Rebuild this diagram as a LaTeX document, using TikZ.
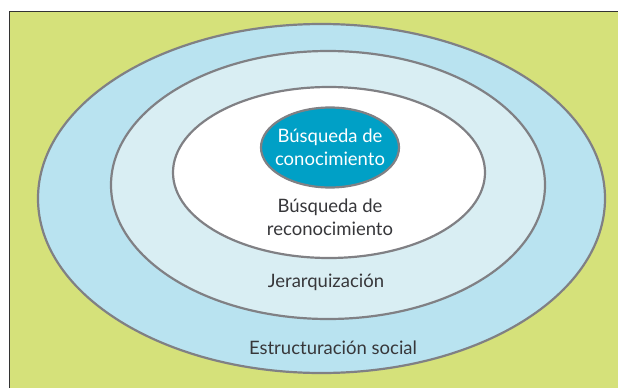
\documentclass[tikz,border=0pt]{standalone}
\usepackage{fontspec}
\setmainfont{Lato}
\usetikzlibrary{shapes.geometric}
\definecolor{bggreen}{RGB}{213,225,122}
\definecolor{ringblue}{RGB}{185,227,240}
\definecolor{ringpale}{RGB}{217,238,243}
\definecolor{coreblue}{RGB}{0,160,198}
\definecolor{rimgray}{RGB}{128,128,132}
\definecolor{txtgray}{RGB}{55,55,58}
\tikzstyle{ring} = [ellipse, inner sep=0pt, draw=rimgray, line width=2.2pt]
\tikzstyle{label} = [align=center, text=txtgray, font=\fontsize{18.5}{23}\selectfont, inner sep=0pt]
\begin{document}
\begin{tikzpicture}[x=1pt, y=-1pt]
\useasboundingbox (0,0) rectangle (618,388);
\fill[bggreen] (9,11) rectangle (618,388);
\draw[black!80, line width=1pt] (9,388) -- (9,11) -- (618,11);
\node (social) [ring, fill=ringblue, minimum width=567pt, minimum height=349pt] at (321.5,198.5) {};
\node (jerar) [ring, fill=ringpale, minimum width=434pt, minimum height=268pt] at (328,185) {};
\node (recon) [ring, fill=white, minimum width=312pt, minimum height=171pt] at (329,172.5) {};
\node (conoc) [ring, fill=coreblue, minimum width=138pt, minimum height=80pt] at (330,147.5) {};

\node (tconoc) [label, text=white] at (conoc) {Búsqueda de\\conocimiento};
\node (trecon) [label] at (330,217) {Búsqueda de\\reconocimiento};
\node (tjerar) [label] at (326,282) {Jerarquización};
\node (tsocial) [label] at (333,348) {Estructuración social};
\end{tikzpicture}
\end{document}
